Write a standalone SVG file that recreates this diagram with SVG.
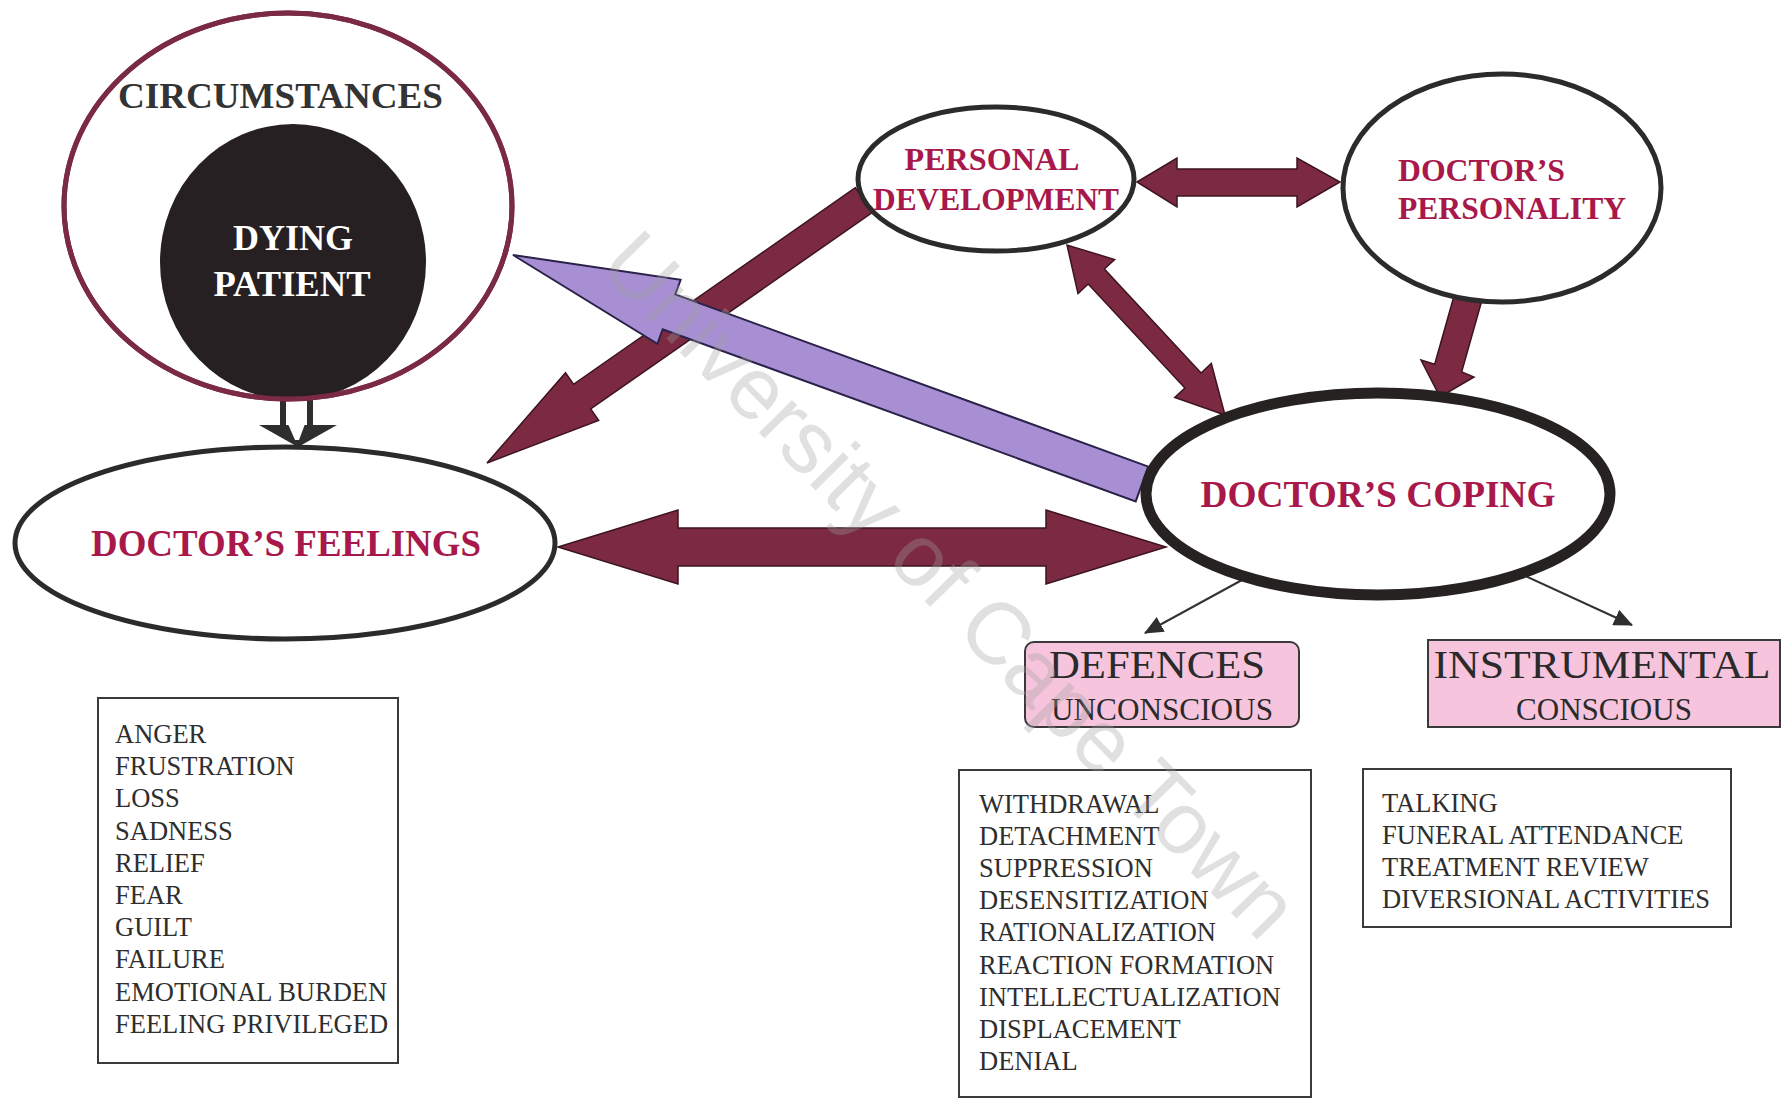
<svg xmlns="http://www.w3.org/2000/svg" width="1787" height="1098" viewBox="0 0 1787 1098">
<defs>
<style>
.lbl{font-family:"Liberation Serif","Times New Roman",serif;font-weight:bold;fill:#a8184b}
.list{font-family:"Liberation Serif","Times New Roman",serif;font-size:26.5px;fill:#2e2e2e}
.pinkt{font-family:"Liberation Serif","Times New Roman",serif;fill:#2a2a2a}
.ell{fill:#fff;stroke:#2b2b2b;stroke-width:5}
.maroon{fill:#7b2a42;stroke:#3d1420;stroke-width:1.5;stroke-linejoin:miter}
.purple{fill:#a88fd4;stroke:#2a2248;stroke-width:2}
.box{fill:#fff;stroke:#3a3a3a;stroke-width:2}
.pink{fill:#f6c4dc;stroke:#3a3a3a;stroke-width:2}
.thin{stroke:#333;stroke-width:2;fill:none}
</style>
<marker id="ah" viewBox="0 0 18 16" refX="17" refY="8" markerWidth="19" markerHeight="17" markerUnits="userSpaceOnUse" orient="auto">
<path d="M0,0 L18,8 L0,16 z" fill="#2e2e2e"/>
</marker>
</defs>
<rect width="1787" height="1098" fill="#fff"/>

<g id="connectors">
<path d="M283,400 V428 M310,428 V400" fill="none" stroke="#2e2e2e" stroke-width="6"/>
<polygon points="259,425 337,425 298,447" fill="#2e2e2e"/>
<polygon points="288,424 305,424 299,440 295,440" fill="#fff"/>
<polygon class="maroon" points="855.4,187.7 573.5,384.3 565.5,372.8 487,463 598.7,420.4 590.7,408.9 872.6,212.3"/>
<polygon class="purple" points="1148.3,466.6 675.3,294.4 680.6,279.8 513,255 657.4,343.8 662.7,329.2 1135.7,501.4"/>
<polygon class="maroon" points="558,547 678,510 678,528 1046,528 1046,510 1166,547 1046,584 1046,566 678,566 678,584"/>
<polygon class="maroon" points="1137,182 1177,158 1177,169 1297,169 1297,158 1340,182 1297,207 1297,196 1177,196 1177,207"/>
<polygon class="maroon" points="1067,245 1078,293.5 1088.2,284 1184.9,388 1174.7,397.5 1225,415 1211.3,363.5 1201.1,373 1104.4,269 1114.6,259.5"/>
<polygon class="maroon" points="1454.5,294.2 1434.7,364.3 1421,360 1440,397 1474,377 1461.7,371.9 1481.5,301.8"/>
<line class="thin" x1="1242" y1="580" x2="1145" y2="633" marker-end="url(#ah)"/>
<line class="thin" x1="1523" y1="575" x2="1632" y2="625" marker-end="url(#ah)"/>
</g>

<g id="circumstances">
<ellipse cx="288" cy="206" rx="224" ry="193" fill="#fff" stroke="#7a2946" stroke-width="5"/>
<text x="280.5" y="108" text-anchor="middle" font-family="Liberation Serif, Times New Roman, serif" font-weight="bold" font-size="36" fill="#333" textLength="325" lengthAdjust="spacingAndGlyphs">CIRCUMSTANCES</text>
</g>

<g id="dying-patient">
<ellipse cx="293" cy="262" rx="133" ry="138" fill="#262022"/>
<ellipse cx="288" cy="206" rx="224" ry="193" fill="none" stroke="#7a2946" stroke-width="5"/>
<text x="293" y="250" text-anchor="middle" font-family="Liberation Serif, Times New Roman, serif" font-weight="bold" font-size="36" fill="#fff" textLength="120" lengthAdjust="spacingAndGlyphs">DYING</text>
<text x="292" y="296" text-anchor="middle" font-family="Liberation Serif, Times New Roman, serif" font-weight="bold" font-size="36" fill="#fff" textLength="157" lengthAdjust="spacingAndGlyphs">PATIENT</text>
</g>

<g id="doctors-feelings">
<ellipse class="ell" cx="285" cy="543" rx="270" ry="96"/>
<text class="lbl" x="286" y="556" text-anchor="middle" font-size="37" textLength="390" lengthAdjust="spacingAndGlyphs">DOCTOR’S FEELINGS</text>
</g>

<g id="personal-development">
<ellipse class="ell" cx="996" cy="179" rx="138" ry="72"/>
<text class="lbl" x="992" y="170" text-anchor="middle" font-size="32" textLength="175" lengthAdjust="spacingAndGlyphs">PERSONAL</text>
<text class="lbl" x="996" y="210" text-anchor="middle" font-size="32" textLength="246" lengthAdjust="spacingAndGlyphs">DEVELOPMENT</text>
</g>

<g id="doctors-personality">
<ellipse class="ell" cx="1502" cy="188" rx="159" ry="114"/>
<text class="lbl" x="1398" y="181" font-size="32" textLength="167" lengthAdjust="spacingAndGlyphs">DOCTOR’S</text>
<text class="lbl" x="1398" y="219" font-size="32" textLength="228" lengthAdjust="spacingAndGlyphs">PERSONALITY</text>
</g>

<g id="doctors-coping">
<ellipse cx="1378" cy="494" rx="232" ry="101" fill="#fff" stroke="#262222" stroke-width="11"/>
<text class="lbl" x="1378" y="507" text-anchor="middle" font-size="37" textLength="355" lengthAdjust="spacingAndGlyphs">DOCTOR’S COPING</text>
</g>

<g id="defences">
<rect class="pink" x="1025" y="642" width="274" height="85" rx="9"/>
<text class="pinkt" x="1157" y="678" text-anchor="middle" font-size="40" textLength="216" lengthAdjust="spacingAndGlyphs">DEFENCES</text>
<text class="pinkt" x="1162" y="720" text-anchor="middle" font-size="31" textLength="222" lengthAdjust="spacingAndGlyphs">UNCONSCIOUS</text>
</g>

<g id="instrumental">
<rect class="pink" x="1428" y="640" width="352" height="87"/>
<text class="pinkt" x="1602" y="678" text-anchor="middle" font-size="41" textLength="337" lengthAdjust="spacingAndGlyphs">INSTRUMENTAL</text>
<text class="pinkt" x="1604" y="720" text-anchor="middle" font-size="31" textLength="176" lengthAdjust="spacingAndGlyphs">CONSCIOUS</text>
</g>

<g id="feelings-list">
<rect class="box" x="98" y="698" width="300" height="365"/>
<text class="list" x="115" y="743">ANGER</text>
<text class="list" x="115" y="775.2">FRUSTRATION</text>
<text class="list" x="115" y="807.4">LOSS</text>
<text class="list" x="115" y="839.6">SADNESS</text>
<text class="list" x="115" y="871.8">RELIEF</text>
<text class="list" x="115" y="904">FEAR</text>
<text class="list" x="115" y="936.2">GUILT</text>
<text class="list" x="115" y="968.4">FAILURE</text>
<text class="list" x="115" y="1000.6">EMOTIONAL BURDEN</text>
<text class="list" x="115" y="1032.8">FEELING PRIVILEGED</text>
</g>

<g id="defences-list">
<rect class="box" x="959" y="770" width="352" height="327"/>
<text class="list" x="979" y="813">WITHDRAWAL</text>
<text class="list" x="979" y="845.1">DETACHMENT</text>
<text class="list" x="979" y="877.2">SUPPRESSION</text>
<text class="list" x="979" y="909.3">DESENSITIZATION</text>
<text class="list" x="979" y="941.4">RATIONALIZATION</text>
<text class="list" x="979" y="973.5">REACTION FORMATION</text>
<text class="list" x="979" y="1005.6">INTELLECTUALIZATION</text>
<text class="list" x="979" y="1037.7">DISPLACEMENT</text>
<text class="list" x="979" y="1069.8">DENIAL</text>
</g>

<g id="instrumental-list">
<rect class="box" x="1363" y="769" width="368" height="158"/>
<text class="list" x="1382" y="812">TALKING</text>
<text class="list" x="1382" y="843.9">FUNERAL ATTENDANCE</text>
<text class="list" x="1382" y="875.8">TREATMENT REVIEW</text>
<text class="list" x="1382" y="907.7">DIVERSIONAL ACTIVITIES</text>
</g>

<g id="watermark">
<text x="597" y="268" transform="rotate(45.5 597 268)" font-family="Liberation Sans, Arial, sans-serif" font-size="88" fill="#a0a0a0" fill-opacity="0.33">University of Cape Town</text>
</g>
</svg>
